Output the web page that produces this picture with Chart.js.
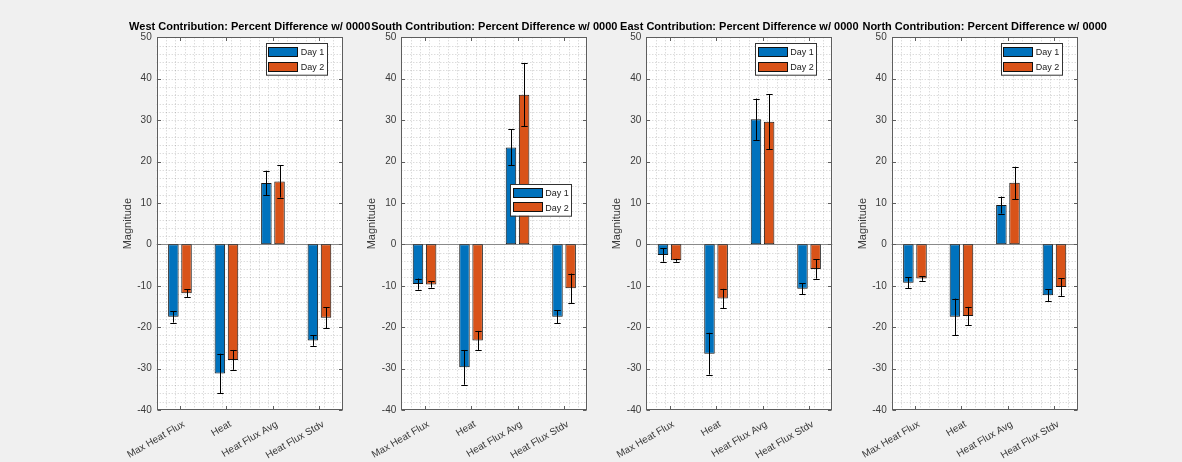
<!DOCTYPE html>
<html>
<head>
<meta charset="utf-8">
<script src="https://cdn.jsdelivr.net/npm/chart.js@4.4.1/dist/chart.umd.min.js"></script>
<style>
  html, body { margin: 0; padding: 0; background: #f0f0f0; width: 1182px; height: 462px; overflow: hidden; }
  canvas { position: absolute; left: 0; top: 0; }
</style>
</head>
<body>
<canvas id="c0" width="1182" height="462"></canvas>
<canvas id="c1" width="1182" height="462"></canvas>
<canvas id="c2" width="1182" height="462"></canvas>
<canvas id="c3" width="1182" height="462"></canvas>
<script>
// Categories and series shared by all four panels
const categories = ['Max Heat Flux', 'Heat', 'Heat Flux Avg', 'Heat Flux Stdv'];
const seriesNames = ['Day 1', 'Day 2'];
const regions = ['West', 'South', 'East', 'North'];
const yTickValues = [-40, -30, -20, -10, 0, 10, 20, 30, 40, 50];

// Percent differences (mean) and error-bar half widths per region
const westDay1 = [-17.5, -31.2, 14.8, -23.2];
const westDay1Err = [1.4, 4.8, 3.0, 1.3];
const westDay2 = [-11.8, -27.9, 15.2, -17.7];
const westDay2Err = [0.9, 2.4, 3.9, 2.5];

const southDay1 = [-9.6, -29.7, 23.4, -17.5];
const southDay1Err = [1.35, 4.2, 4.35, 1.6];
const southDay2 = [-9.7, -23.2, 36.1, -10.6];
const southDay2Err = [0.75, 2.3, 7.6, 3.55];

const eastDay1 = [-2.6, -26.4, 30.2, -10.75];
const eastDay1Err = [1.6, 5.05, 5.0, 1.35];
const eastDay2 = [-3.85, -13.1, 29.6, -5.95];
const eastDay2Err = [0.35, 2.35, 6.65, 2.35];

const northDay1 = [-9.3, -17.5, 9.5, -12.3];
const northDay1Err = [1.3, 4.4, 2.05, 1.4];
const northDay2 = [-8.25, -17.3, 14.85, -10.3];
const northDay2Err = [0.55, 2.2, 3.9, 2.15];

const panelValues = [
  [westDay1, westDay2], [southDay1, southDay2], [eastDay1, eastDay2], [northDay1, northDay2]
];
const panelErrors = [
  [westDay1Err, westDay2Err], [southDay1Err, southDay2Err], [eastDay1Err, eastDay2Err], [northDay1Err, northDay2Err]
];

// Figure layout (pixels)
const W = 1182, H = 462;
const plotLefts = [156.7, 401.3, 646.3, 891.7];
const plotWidth = 186;
const plotTop = 37.3, plotBottom = 410;
const yAxisWidth = 40;
// legend box offset inside each axes: null = top-right corner
const legendSpots = [null, { dx: 109, y: 184 }, null, null];

const FONT = '"Liberation Sans", Arial, Helvetica, sans-serif';
const TEXT = '#3a3a3a';
const colors = ['#0072BD', '#D95319'];

const matlabAxes = {
  id: 'matlabAxes',
  beforeDraw(chart) {
    const { ctx, chartArea: a } = chart;
    ctx.save();
    ctx.fillStyle = '#ffffff';
    ctx.fillRect(a.left, a.top, a.right - a.left, a.bottom - a.top);
    ctx.restore();
  },
  beforeDatasetsDraw(chart) {
    const { ctx, chartArea: a, scales } = chart;
    const xs = scales.x, ys = scales.y;
    ctx.save();
    ctx.strokeStyle = 'rgba(0,0,0,0.2)';
    ctx.lineWidth = 1;
    ctx.setLineDash([1, 2]);
    // minor grid: every 2 units on y
    for (let v = -38; v < 50; v += 2) {
      const y = Math.round(ys.getPixelForValue(v)) + 0.5;
      ctx.beginPath(); ctx.moveTo(a.left, y); ctx.lineTo(a.right, y); ctx.stroke();
    }
    // minor grid: every 0.2 category on x
    for (let k = 1; k < 20; k++) {
      const v = -0.5 + k * 0.2;
      const x = Math.round(xs.getPixelForValue(v)) + 0.5;
      ctx.beginPath(); ctx.moveTo(x, a.top); ctx.lineTo(x, a.bottom); ctx.stroke();
    }
    ctx.setLineDash([]);
    // bar baseline
    const y0 = Math.round(ys.getPixelForValue(0)) + 0.5;
    ctx.strokeStyle = '#8a8a8a';
    ctx.lineWidth = 1.2;
    ctx.beginPath(); ctx.moveTo(a.left, y0); ctx.lineTo(a.right, y0); ctx.stroke();
    ctx.restore();
  },
  afterDatasetsDraw(chart, args, opts) {
    const { ctx, chartArea: a, scales } = chart;
    const xs = scales.x, ys = scales.y;
    ctx.save();

    // error bars
    ctx.strokeStyle = '#000000';
    ctx.lineWidth = 1;
    chart.data.datasets.forEach((ds, i) => {
      const meta = chart.getDatasetMeta(i);
      meta.data.forEach((bar, j) => {
        const v = ds.data[j], e = ds.errors[j];
        const x = Math.round(bar.x) + 0.5;
        const yHi = ys.getPixelForValue(v + e), yLo = ys.getPixelForValue(v - e);
        ctx.beginPath();
        ctx.moveTo(x, yHi); ctx.lineTo(x, yLo);
        ctx.moveTo(x - 3.2, Math.round(yHi) + 0.5); ctx.lineTo(x + 3.2, Math.round(yHi) + 0.5);
        ctx.moveTo(x - 3.2, Math.round(yLo) + 0.5); ctx.lineTo(x + 3.2, Math.round(yLo) + 0.5);
        ctx.stroke();
      });
    });

    // axes box and inward tick marks
    ctx.strokeStyle = '#5e5e5e';
    ctx.lineWidth = 1;
    const L = Math.round(a.left) + 0.5, R = Math.round(a.right) - 0.5;
    const T = Math.round(a.top) + 0.5, B = Math.round(a.bottom) - 0.5;
    ctx.strokeRect(L, T, R - L, B - T);
    ctx.beginPath();
    yTickValues.forEach(v => {
      const y = Math.round(ys.getPixelForValue(v)) + 0.5;
      ctx.moveTo(L, y); ctx.lineTo(L + 3.5, y);
      ctx.moveTo(R, y); ctx.lineTo(R - 3.5, y);
    });
    categories.forEach((c, i) => {
      const x = Math.round(xs.getPixelForValue(i)) + 0.5;
      ctx.moveTo(x, B); ctx.lineTo(x, B - 3.5);
      ctx.moveTo(x, T); ctx.lineTo(x, T + 3.5);
    });
    ctx.stroke();

    // rotated category labels
    ctx.fillStyle = TEXT;
    ctx.font = '10px ' + FONT;
    ctx.textAlign = 'right';
    ctx.textBaseline = 'middle';
    categories.forEach((c, i) => {
      const x = xs.getPixelForValue(i) + 4;
      ctx.save();
      ctx.translate(x, a.bottom + 13.5);
      ctx.rotate(-30 * Math.PI / 180);
      ctx.fillText(c, 0, 0);
      ctx.restore();
    });

    // y-axis label
    ctx.save();
    ctx.font = '11px ' + FONT;
    ctx.textAlign = 'center';
    ctx.textBaseline = 'middle';
    ctx.translate(a.left - 29, (a.top + a.bottom) / 2);
    ctx.rotate(-Math.PI / 2);
    ctx.fillText('Magnitude', 0, 0);
    ctx.restore();

    // title
    ctx.fillStyle = '#000000';
    ctx.font = 'bold 11px ' + FONT;
    ctx.textAlign = 'center';
    ctx.textBaseline = 'alphabetic';
    ctx.fillText(opts.title, (a.left + a.right) / 2, 29.5);

    // legend
    const bw = 61, bh = 31.7;
    const spot = opts.legendSpot;
    const bx = spot ? a.left + spot.dx : a.right - 16 - bw;
    const by = spot ? spot.y : a.top + 6;
    ctx.fillStyle = '#ffffff';
    ctx.fillRect(bx, by, bw, bh);
    ctx.strokeStyle = '#333333';
    ctx.strokeRect(Math.round(bx) + 0.5, Math.round(by) + 0.5, bw, bh);
    chart.data.datasets.forEach((ds, i) => {
      const sy = Math.round(by + 4 + i * 14.4);
      const sx = Math.round(bx + 2.6);
      ctx.fillStyle = ds.backgroundColor;
      ctx.fillRect(sx, sy, 30, 10);
      ctx.strokeStyle = '#111111';
      ctx.strokeRect(sx + 0.5, sy + 0.5, 29, 9);
      ctx.fillStyle = '#1a1a1a';
      ctx.font = '9px ' + FONT;
      ctx.textAlign = 'left';
      ctx.textBaseline = 'middle';
      ctx.fillText(ds.label, bx + 35, by + 9.6 + i * 15);
    });
    ctx.restore();
  }
};

regions.forEach((region, p) => {
  const left = plotLefts[p];
  const right = left + plotWidth;
  new Chart(document.getElementById('c' + p), {
    type: 'bar',
    data: {
      labels: categories,
      datasets: seriesNames.map((name, s) => ({
        label: name,
        data: panelValues[p][s],
        errors: panelErrors[p][s],
        backgroundColor: colors[s],
        borderColor: '#141414',
        borderWidth: 1,
        borderSkipped: false,
        categoryPercentage: 0.565,
        barPercentage: 0.8
      }))
    },
    options: {
      responsive: false,
      animation: false,
      devicePixelRatio: 1,
      events: [],
      layout: {
        padding: { left: left - yAxisWidth, right: W - right, top: plotTop, bottom: H - plotBottom }
      },
      plugins: {
        legend: { display: false },
        title: { display: false },
        tooltip: { enabled: false },
        matlabAxes: { title: region + ' Contribution: Percent Difference w/ 0000', legendSpot: legendSpots[p] }
      },
      scales: {
        x: {
          type: 'category',
          offset: true,
          grid: { display: false, drawTicks: false },
          border: { display: false },
          ticks: { display: false },
          afterFit: s => { s.height = 0; }
        },
        y: {
          min: -40,
          max: 50,
          grid: { display: false, drawTicks: false },
          border: { display: false },
          ticks: { stepSize: 10, padding: 5, color: TEXT, font: { family: FONT, size: 10 } },
          afterFit: s => { s.width = yAxisWidth; }
        }
      }
    },
    plugins: [matlabAxes]
  });
});
</script>
</body>
</html>
